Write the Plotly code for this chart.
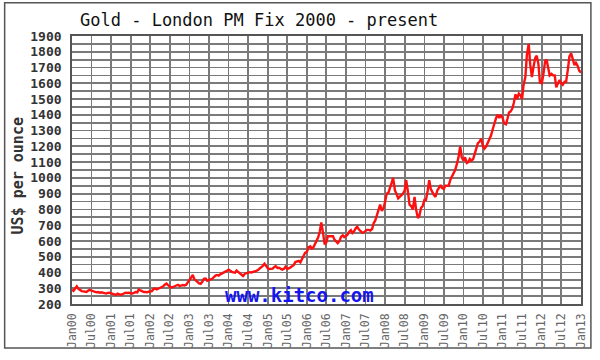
import pandas as pd
import plotly.graph_objects as go

# Semi-monthly London PM fix values (1st and 15th of each month)
p2000 = [290, 284, 300, 312, 296, 288, 282, 280, 276, 276, 285, 290, 284, 281, 278, 274, 276, 272, 274, 270, 266, 266, 270, 272]
p2001 = [268, 264, 262, 258, 266, 262, 258, 262, 268, 272, 270, 272, 268, 266, 270, 276, 274, 292, 286, 280, 276, 276, 274, 278]
p2002 = [282, 282, 296, 298, 292, 296, 302, 306, 312, 322, 330, 320, 314, 304, 308, 312, 316, 322, 314, 318, 320, 318, 322, 336]
p2003 = [352, 360, 384, 358, 348, 336, 330, 328, 340, 360, 362, 348, 350, 356, 360, 372, 380, 384, 380, 388, 394, 396, 402, 410]
p2004 = [418, 410, 404, 400, 398, 412, 404, 392, 386, 378, 392, 396, 396, 402, 400, 402, 404, 410, 416, 424, 428, 442, 455, 440]
p2005 = [426, 422, 424, 424, 434, 440, 428, 430, 424, 418, 424, 436, 422, 426, 432, 440, 448, 466, 472, 474, 464, 484, 496, 525]
p2006 = [532, 560, 566, 552, 558, 580, 600, 622, 660, 718, 648, 578, 590, 630, 630, 632, 630, 608, 596, 586, 600, 626, 636, 624]
p2007 = [632, 640, 660, 668, 650, 660, 680, 690, 672, 660, 652, 654, 660, 670, 670, 666, 676, 712, 730, 760, 790, 830, 790, 806]
p2008 = [850, 900, 908, 944, 968, 1000, 920, 900, 870, 880, 890, 900, 920, 985, 910, 830, 820, 800, 880, 800, 745, 760, 810, 820]
p2009 = [860, 860, 920, 985, 930, 910, 890, 880, 920, 935, 955, 935, 930, 950, 950, 950, 990, 1010, 1040, 1050, 1090, 1130, 1200, 1130]
p2010 = [1110, 1130, 1095, 1100, 1120, 1110, 1120, 1150, 1180, 1220, 1230, 1250, 1200, 1185, 1200, 1220, 1250, 1270, 1310, 1350, 1380, 1400, 1380, 1400]
p2011 = [1380, 1345, 1340, 1375, 1415, 1420, 1440, 1475, 1530, 1500, 1535, 1525, 1500, 1590, 1640, 1780, 1850, 1720, 1640, 1700, 1760, 1775, 1720, 1605]
p2012 = [1600, 1650, 1740, 1750, 1700, 1650, 1660, 1650, 1650, 1575, 1600, 1620, 1600, 1590, 1610, 1610, 1690, 1770, 1790, 1750, 1715, 1730, 1710, 1680]
p2013 = [1668]

prices = p2000 + p2001 + p2002 + p2003 + p2004 + p2005 + p2006 + p2007 + p2008 + p2009 + p2010 + p2011 + p2012 + p2013
dates = pd.date_range("2000-01-01", "2013-01-01", freq="SMS")[:len(prices)]

tick_dates = pd.date_range("2000-01-01", "2013-01-01", freq="6MS")
tick_text = [("Jan" if d.month == 1 else "Jul") + d.strftime("%y") for d in tick_dates]
y_ticks = list(range(200, 2000, 100))

fig = go.Figure()
fig.add_trace(go.Scatter(x=dates, y=prices, mode="lines",
                         line=dict(color="#ff1010", width=2.4), hoverinfo="skip"))

grid_col = "#7a7a7a"
gw = 1.8
fig.update_layout(
    width=600, height=360,
    margin=dict(l=72, r=14, t=36, b=50),
    paper_bgcolor="white", plot_bgcolor="white",
    showlegend=False,
    xaxis=dict(range=["2000-01-01", "2013-01-01"], tickvals=tick_dates, ticktext=tick_text,
               tickangle=-90, showgrid=True, gridcolor=grid_col, gridwidth=gw,
               showline=True, linecolor="#555", linewidth=gw, mirror=True, zeroline=False,
               ticks="", ticklabelstandoff=3,
               tickfont=dict(family="DejaVu Sans Mono", size=11.5, color="#666")),
    yaxis=dict(range=[200, 1900], tickvals=y_ticks, ticktext=[str(v) for v in y_ticks],
               showgrid=True, gridcolor=grid_col, gridwidth=gw,
               minor=dict(dtick=50, tick0=200, showgrid=True, gridcolor=grid_col, gridwidth=gw),
               showline=True, linecolor="#555", linewidth=gw, mirror=True, zeroline=False,
               ticks="", ticklabelstandoff=6,
               tickfont=dict(family="DejaVu Sans Mono", size=13, color="#333", weight="bold")),
)

fig.add_annotation(text="Gold - London PM Fix 2000 - present", xref="paper", yref="paper",
                   x=0.3677, y=1.058, xanchor="center", yanchor="middle", showarrow=False,
                   font=dict(family="DejaVu Sans Mono", size=17, color="#111"))
fig.add_annotation(text="US$ per ounce", xref="paper", yref="paper",
                   x=-0.107, y=0.478, xanchor="center", yanchor="middle", textangle=-90,
                   showarrow=False,
                   font=dict(family="DejaVu Sans Mono", size=15, color="#333", weight="bold"))
fig.add_annotation(text="www.kitco.com", xref="paper", yref="paper",
                   x=0.4475, y=0.035, xanchor="center", yanchor="middle", showarrow=False,
                   font=dict(family="DejaVu Sans Mono", size=19, color="#1515ee", weight="bold"))

# outer frame around the whole picture
fig.add_shape(type="rect", xref="paper", yref="paper",
              x0=(4 - 72) / 514, x1=(596 - 72) / 514,
              y0=(310 - 355) / 274, y1=(310 - 2) / 274,
              line=dict(color="#555", width=1.5), fillcolor="rgba(0,0,0,0)", layer="above")

fig.write_html("out.html", config={"displayModeBar": False, "staticPlot": True},
               post_script="document.body.style.margin='0';document.body.style.overflow='hidden';")
